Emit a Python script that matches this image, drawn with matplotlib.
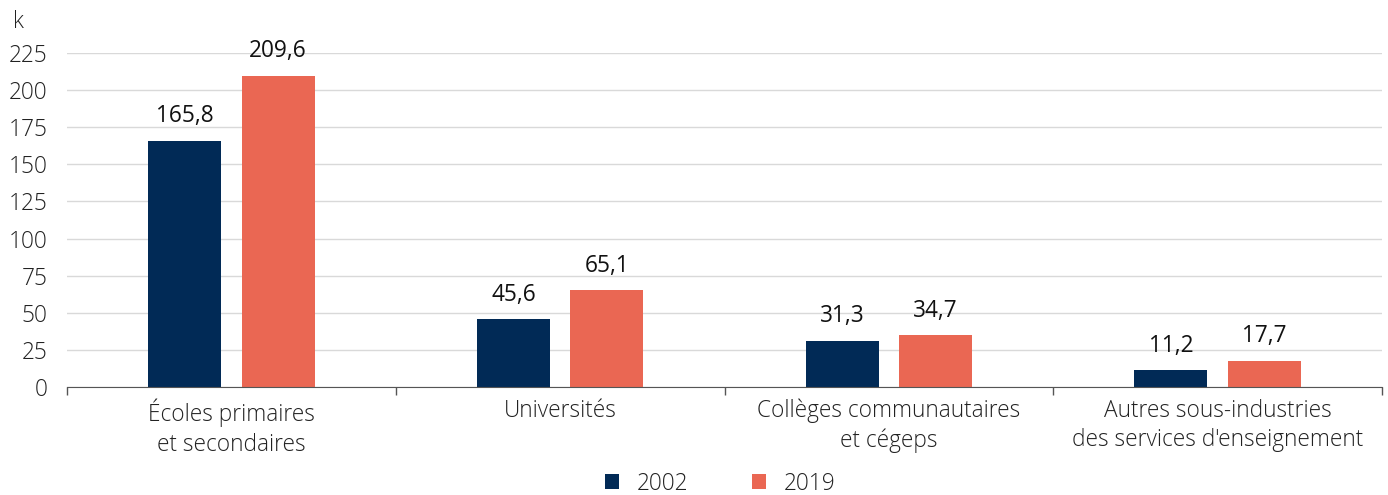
"""Employment in educational services sub-industries, 2002 vs 2019."""

import matplotlib

matplotlib.use("Agg")
import matplotlib.pyplot as plt
from matplotlib.patches import Patch
import numpy as np

plt.rcParams["font.family"] = ["Open Sans", "DejaVu Sans"]

CATEGORIES = [
    "Écoles primaires\net secondaires",
    "Universités",
    "Collèges communautaires\net cégeps",
    "Autres sous-industries\ndes services d'enseignement",
]
YEARS = ["2002", "2019"]
VALUES_2002 = [165.8, 45.6, 31.3, 11.2]
VALUES_2019 = [209.6, 65.1, 34.7, 17.7]
Y_TICKS = [0, 25, 50, 75, 100, 125, 150, 175, 200, 225]

COLORS = {"2002": "#012a56", "2019": "#ea6753"}
TEXT_COLOR = "#222222"
LIGHT = "light"
FS = 16.3


def fmt(value: float) -> str:
    """French decimal comma."""
    return f"{value:.1f}".replace(".", ",")


def main() -> None:
    fig = plt.figure(figsize=(13.88, 4.95), dpi=100)
    ax = fig.add_axes([0.0483, 0.2182, 0.9474, 0.6747])

    x = np.arange(len(CATEGORIES))
    width = 0.222
    offset = 0.142

    for values, year, sign in ((VALUES_2002, "2002", -1), (VALUES_2019, "2019", 1)):
        bars = ax.bar(x + sign * offset, values, width, color=COLORS[year], zorder=3)
        for rect, val in zip(bars, values):
            ax.annotate(
                fmt(val),
                (rect.get_x() + rect.get_width() / 2, rect.get_height()),
                xytext=(0, 9),
                textcoords="offset points",
                ha="center",
                va="bottom",
                fontsize=FS,
                color="#111111",
            )

    ax.set_xlim(-0.5, len(CATEGORIES) - 0.5)
    ax.set_ylim(0, 225)
    ax.set_yticks(Y_TICKS)
    ax.set_yticklabels([str(t) for t in Y_TICKS], fontsize=FS, color=TEXT_COLOR, fontweight=LIGHT)
    ax.tick_params(axis="y", length=0, pad=14)
    ax.grid(axis="y", color="#d9d9d9", linewidth=1, zorder=0)

    # category labels, ticks at the boundaries
    ax.set_xticks(np.arange(len(CATEGORIES) + 1) - 0.5)
    ax.set_xticklabels([])
    ax.tick_params(axis="x", length=6, color="#555555", width=1)
    for xi, label in zip(x, CATEGORIES):
        ax.text(
            xi, -0.035, label,
            transform=ax.get_xaxis_transform(),
            ha="center", va="top",
            fontsize=FS, color=TEXT_COLOR, fontweight=LIGHT,
            linespacing=1.3,
        )

    for side in ("top", "right", "left"):
        ax.spines[side].set_visible(False)
    ax.spines["bottom"].set_color("#555555")
    ax.spines["bottom"].set_zorder(4)

    fig.text(0.0095, 0.955, "k", fontsize=FS, color=TEXT_COLOR, fontweight=LIGHT, va="center")

    handles = [Patch(facecolor=COLORS[y], label=y) for y in YEARS]
    leg = fig.legend(
        handles=handles,
        loc="center",
        bbox_to_anchor=(0.519, 0.023),
        ncol=2,
        frameon=False,
        handlelength=0.6,
        handleheight=0.6,
        handletextpad=0.8,
        columnspacing=2.8,
        borderpad=0.2,
        prop={"size": FS, "weight": LIGHT},
    )
    for t in leg.get_texts():
        t.set_color(TEXT_COLOR)

    fig.savefig("out.png", dpi=100)
    plt.close(fig)


if __name__ == "__main__":
    main()
